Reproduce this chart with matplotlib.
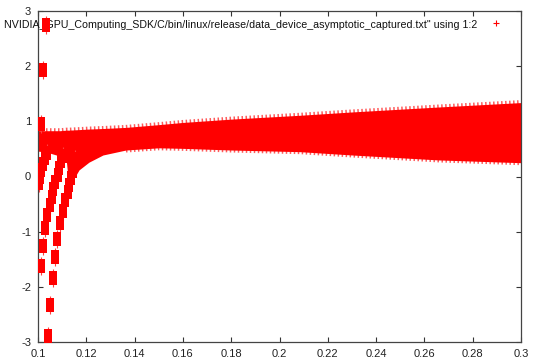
import matplotlib
matplotlib.use('Agg')
import matplotlib.pyplot as plt
from matplotlib.lines import Line2D

plt.rcParams['font.family'] = ['Liberation Sans', 'DejaVu Sans']

# main band (envelope)
band_x = [0.100, 0.1037, 0.1091, 0.1116, 0.1128, 0.117, 0.1211, 0.1269, 0.1364, 0.150,
          0.160, 0.180, 0.2085, 0.230, 0.254, 0.266, 0.300]
band_lo = [0.46, 0.44, 0.37, 0.34, -0.19, 0.12, 0.26, 0.39, 0.48, 0.52,
           0.51, 0.48, 0.45, 0.39, 0.33, 0.30, 0.25]
band_hi = [0.83, 0.83, 0.83, 0.84, 0.84, 0.85, 0.86, 0.87, 0.89, 0.94,
           0.98, 1.04, 1.11, 1.17, 1.23, 1.26, 1.34]

# branches near x = 0.1
strip1_x = [0.1003, 0.1008, 0.1014, 0.1021, 0.1029, 0.1037]
strip1_y = [-0.12, -0.01, 0.12, 0.23, 0.34, 0.43]

branchA_x = [0.1011, 0.1019, 0.1029, 0.1037, 0.1048, 0.1056, 0.1064, 0.1072,
             0.1081, 0.1089, 0.1097, 0.1104]
branchA_y = [-1.62, -1.26, -0.93, -0.70, -0.52, -0.37, -0.23, -0.10,
             0.03, 0.15, 0.28, 0.37]

branchB_x = [0.1040, 0.1050, 0.1061, 0.1070, 0.1080, 0.1091, 0.1102, 0.1112,
             0.1123, 0.1130, 0.1137, 0.1143, 0.1149, 0.1153]
branchB_y = [-2.89, -2.33, -1.84, -1.46, -1.13, -0.84, -0.62, -0.42,
             -0.28, -0.15, -0.03, 0.10, 0.23, 0.32]

upper_x = [0.1011, 0.1019, 0.1032]
upper_y = [0.95, 1.93, 2.74]

label = 'NVIDIA_GPU_Computing_SDK/C/bin/linux/release/data_device_asymptotic_captured.txt" using 1:2'

fig = plt.figure(figsize=(5.33, 3.64), dpi=100)
ax = fig.add_axes([38/533, 1-342/364, 483/533, 331/364])

red = '#ff0000'
# fuzzy edges of the band
ax.plot(band_x, band_hi, color='#ff5a5a', lw=3.6, dashes=(0.3, 0.5), zorder=1)
ax.plot(band_x[8:], band_lo[8:], color='#ff5a5a', lw=3.6, dashes=(0.3, 0.5), zorder=1)
ax.fill_between(band_x, band_lo, band_hi, color=red, lw=0, zorder=2)

rect = [(-0.27, -0.5), (0.27, -0.5), (0.27, 0.5), (-0.27, 0.5), (-0.27, -0.5)]
for xs, ys in [(strip1_x, strip1_y), (branchA_x, branchA_y), (branchB_x, branchB_y), (upper_x, upper_y)]:
    ax.plot(xs, ys, ls='none', marker='|', ms=13, mew=0.8, color='#ff4040', zorder=3)
    ax.plot(xs, ys, ls='none', marker=rect, ms=9.6, mew=0, color=red, zorder=4)

ax.set_xlim(0.1, 0.3)
ax.set_ylim(-3, 3)
ax.set_xticks([0.1, 0.12, 0.14, 0.16, 0.18, 0.2, 0.22, 0.24, 0.26, 0.28, 0.3])
ax.set_xticklabels(['0.1', '0.12', '0.14', '0.16', '0.18', '0.2', '0.22', '0.24', '0.26', '0.28', '0.3'])
ax.set_yticks([-3, -2, -1, 0, 1, 2, 3])
ax.set_yticklabels(['-3', '-2', '-1', '0', '1', '2', '3'])
ax.tick_params(direction='in', length=3.6, width=0.8, color='#333333', top=True, right=True,
               labelsize=8, labelcolor='#222222', pad=5)
for s in ax.spines.values():
    s.set_color('#444444')
    s.set_linewidth(0.9)

# key, gnuplot style (text then sample)
t = ax.text((477-38)/483, (342-25)/331, label, transform=ax.transAxes, ha='right', va='center',
            fontsize=8, color='#111111')
ax.add_line(Line2D([(496-38)/483], [(342-23)/331], transform=ax.transAxes, ls='none',
                   marker='+', ms=5, mew=0.8, color=red, clip_on=False))
fig.canvas.draw()
w = t.get_window_extent().width
t.set_fontsize(8*474/w)

fig.savefig('out.png', dpi=100)
